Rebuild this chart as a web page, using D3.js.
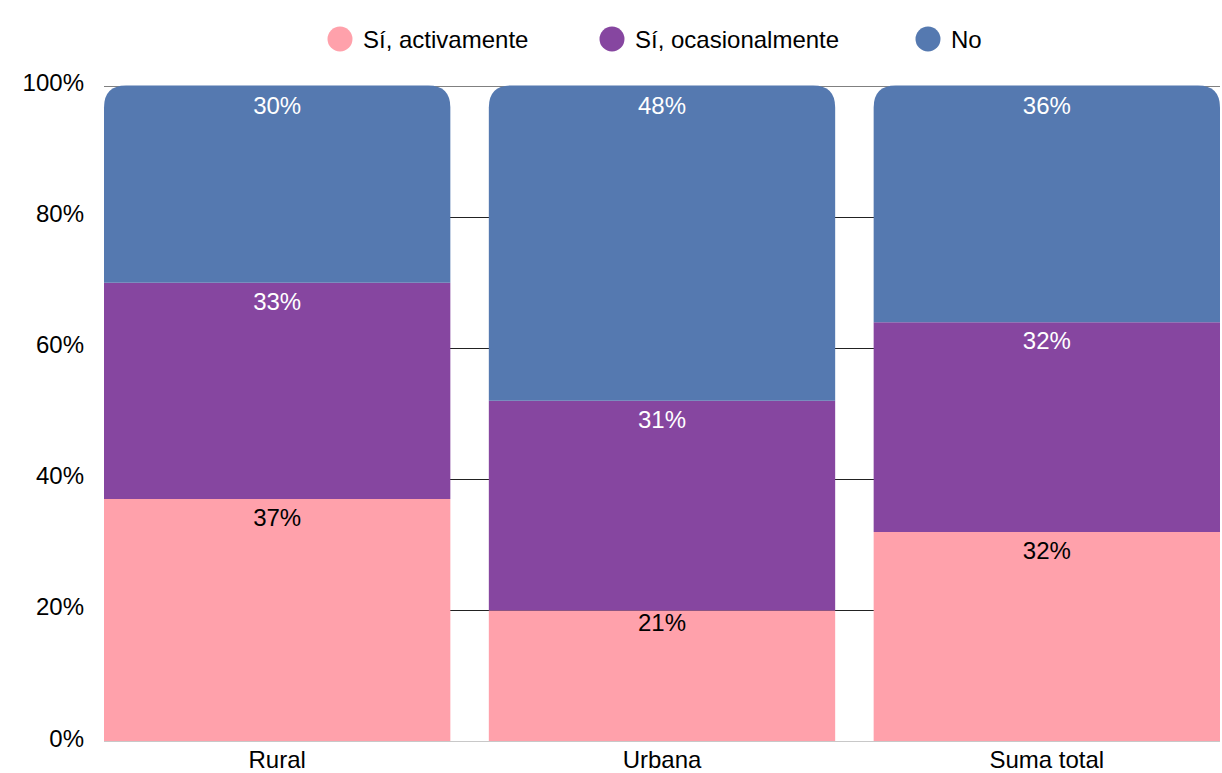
<!DOCTYPE html>
<html>
<head>
<meta charset="utf-8">
<script src="https://cdn.jsdelivr.net/npm/d3@7"></script>
<style>
  html, body { margin: 0; padding: 0; background: #fff; }
  svg { display: block; font-family: "Liberation Sans", Arial, sans-serif; }
</style>
</head>
<body>
<svg id="chart" width="1222" height="773"></svg>
<script>
// Data
const categories = ["Rural", "Urbana", "Suma total"];
const seriesNames = ["Sí, activamente", "Sí, ocasionalmente", "No"];
const activamente = [36.9, 19.9, 31.9];
const ocasionalmente = [33.0, 32.0, 32.0];
const noValues = [30.1, 48.1, 36.1];
// displayed (rounded) labels
const activamenteLabels = [37, 21, 32];
const ocasionalmenteLabels = [33, 31, 32];
const noLabels = [30, 48, 36];
const yTicks = [0, 20, 40, 60, 80, 100];
const colors = ["#ffa1ab", "#8646a0", "#5579b0"];
const labelColors = ["#000000", "#ffffff", "#ffffff"];

const seriesValues = [activamente, ocasionalmente, noValues];
const seriesLabels = [activamenteLabels, ocasionalmenteLabels, noLabels];

(function () {
const svg = d3.select("#chart");
const mLeft = 104, mRight = 1220, mTop = 85.5, mBottom = 741;
const fs = 24;

const x = d3.scaleBand().domain(categories).range([mLeft, mRight]).paddingInner(0.1).paddingOuter(0);
const y = d3.scaleLinear().domain([0, 100]).range([mBottom, mTop]);

// gridlines
svg.append("g").selectAll("line").data(yTicks).join("line")
  .attr("x1", mLeft).attr("x2", mRight)
  .attr("y1", d => Math.round(y(d)) + 0.5).attr("y2", d => Math.round(y(d)) + 0.5)
  .attr("stroke", d => d === 0 ? "#c8c8c8" : (d === 100 ? "#808080" : "#222"))
  .attr("stroke-width", 1);

// y tick labels
svg.append("g").selectAll("text").data(yTicks).join("text")
  .attr("x", 84).attr("y", d => y(d) + 5.5)
  .attr("text-anchor", "end").attr("font-size", fs).attr("fill", "#000")
  .text(d => d + "%");

function makeRows(vals) {
  return categories.map((c, i) => {
    const r = { cat: c };
    seriesNames.forEach((s, k) => r[s] = vals[k][i]);
    return r;
  });
}
const stack = d3.stack().keys(seriesNames)(makeRows(seriesValues));
const labelStack = d3.stack().keys(seriesNames)(makeRows(seriesLabels));

const radius = 22;
function segPath(x0, w, y0, y1, rounded) {
  if (!rounded) return `M${x0},${y0}H${x0 + w}V${y1}H${x0}Z`;
  const r = Math.min(radius, (y0 - y1));
  return `M${x0},${y0}V${y1 + r}Q${x0},${y1} ${x0 + r},${y1}H${x0 + w - r}Q${x0 + w},${y1} ${x0 + w},${y1 + r}V${y0}Z`;
}

stack.forEach((layer, k) => {
  svg.append("g").selectAll("path").data(layer).join("path")
    .attr("d", d => segPath(x(d.data.cat), x.bandwidth(), y(d[0]), y(d[1]), k === seriesNames.length - 1))
    .attr("fill", colors[k]);
});

labelStack.forEach((layer, k) => {
  svg.append("g").selectAll("text").data(layer).join("text")
    .attr("x", d => x(d.data.cat) + x.bandwidth() / 2)
    .attr("y", d => y(d[1]) + 28)
    .attr("text-anchor", "middle").attr("font-size", fs)
    .attr("fill", labelColors[k])
    .text(d => (d[1] - d[0]) + "%");
});

// category labels
svg.append("g").selectAll("text").data(categories).join("text")
  .attr("x", d => x(d) + x.bandwidth() / 2).attr("y", 768)
  .attr("text-anchor", "middle").attr("font-size", fs).attr("fill", "#000")
  .text(d => d);

// legend
const legendX = [340, 612, 928];
const lg = svg.append("g").selectAll("g").data(seriesNames).join("g")
  .attr("transform", (d, i) => `translate(${legendX[i]},39)`);
lg.append("circle").attr("r", 12.5).attr("fill", (d, i) => colors[i]);
lg.append("text").attr("x", 23).attr("y", 8.5).attr("font-size", fs).attr("fill", "#000").text(d => d);
})();
</script>
</body>
</html>
